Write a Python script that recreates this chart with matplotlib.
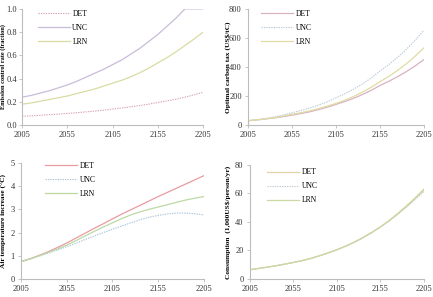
import matplotlib
matplotlib.use('Agg')
import matplotlib.pyplot as plt

plt.rcParams['font.family'] = ['Liberation Serif', 'DejaVu Serif']

years = list(range(2005, 2206, 10))
xticks = [2005, 2055, 2105, 2155, 2205]

# emission control rate
mu_det = [0.075, 0.079, 0.084, 0.089, 0.094, 0.100, 0.106, 0.113, 0.120, 0.128, 0.138,
          0.147, 0.157, 0.168, 0.180, 0.195, 0.208, 0.223, 0.240, 0.260, 0.282]
mu_unc = [0.24, 0.255, 0.275, 0.295, 0.32, 0.345, 0.375, 0.41, 0.445, 0.48, 0.52,
          0.56, 0.61, 0.66, 0.72, 0.78, 0.85, 0.92, 1.0, 1.0, 1.0]
mu_lrn = [0.18, 0.19, 0.205, 0.22, 0.235, 0.25, 0.27, 0.29, 0.31, 0.335, 0.36,
          0.385, 0.415, 0.45, 0.49, 0.535, 0.58, 0.63, 0.685, 0.74, 0.80]

# optimal carbon tax
tax_det = [30, 35, 42, 49, 58, 68, 79, 91, 106, 123, 142,
           162, 184, 210, 239, 272, 301, 333, 368, 407, 451]
tax_unc = [30, 37, 45, 56, 69, 85, 100, 117, 137, 160, 188,
           215, 247, 283, 324, 372, 416, 466, 521, 583, 653]
tax_lrn = [30, 36, 43, 51, 62, 74, 85, 98, 113, 130, 149,
           171, 197, 226, 260, 298, 335, 376, 422, 474, 532]

# air temperature increase
tat_det = [0.75, 0.87, 1.02, 1.18, 1.36, 1.55, 1.76, 1.97, 2.18, 2.38, 2.59,
           2.79, 2.98, 3.17, 3.36, 3.55, 3.73, 3.91, 4.09, 4.27, 4.45]
tat_unc = [0.75, 0.86, 0.99, 1.12, 1.25, 1.39, 1.54, 1.70, 1.85, 2.00, 2.14,
           2.28, 2.42, 2.55, 2.66, 2.74, 2.80, 2.84, 2.84, 2.81, 2.76]
tat_lrn = [0.75, 0.87, 1.00, 1.15, 1.30, 1.46, 1.65, 1.85, 2.05, 2.24, 2.42,
           2.60, 2.76, 2.89, 3.00, 3.10, 3.20, 3.30, 3.40, 3.48, 3.55]

# consumption
con_det = [6.5, 7.4, 8.3, 9.3, 10.4, 11.6, 12.9, 14.4, 16.3, 18.3, 20.5,
           23.0, 25.8, 29.0, 32.6, 36.6, 41.0, 46.0, 51.3, 57.0, 63.0]
con_unc = [6.5, 7.4, 8.3, 9.3, 10.4, 11.6, 12.9, 14.4, 16.3, 18.3, 20.5,
           23.0, 25.8, 29.0, 32.6, 36.4, 40.6, 45.3, 50.4, 55.8, 61.4]
con_lrn = [6.5, 7.4, 8.3, 9.3, 10.4, 11.6, 12.9, 14.4, 16.3, 18.3, 20.5,
           23.0, 25.8, 29.0, 32.6, 36.5, 40.8, 45.7, 50.9, 56.5, 62.3]

fig = plt.figure(figsize=(4.33, 2.97), dpi=100)
fig.set_facecolor('white')


def style(ax, ymax, ystep, ylabel, fs, lx, leg_xy, tpad=2):
    ax.set_xlim(2005, 2205)
    ax.set_ylim(0, ymax)
    ax.set_xticks(xticks)
    ax.set_yticks([i * ystep for i in range(int(round(ymax / ystep)) + 1)])
    for s in ['top', 'right']:
        ax.spines[s].set_visible(False)
    for s in ['left', 'bottom']:
        ax.spines[s].set_color('#bcbcbc')
        ax.spines[s].set_linewidth(0.8)
    ax.tick_params(colors='#bcbcbc', labelcolor='#333333', labelsize=6,
                   length=2.5, width=0.6, direction='out', pad=2)
    ax.tick_params(axis='y', pad=tpad)
    ax.set_ylabel(ylabel, fontsize=fs, fontweight='bold')
    ax.yaxis.set_label_coords(lx, 0.5)
    ax.legend(loc='upper left', bbox_to_anchor=leg_xy, frameon=False,
              fontsize=5.5, handlelength=4.2, labelspacing=0.78, handletextpad=0.3)


ax1 = fig.add_axes([0.051, 0.579, 0.418, 0.391])
ax1.plot(years, mu_det, color='#d8a4b6', lw=0.8, ls=(0, (1.2, 1)), label='DET')
ax1.plot(years, mu_unc, color='#c9bcd9', lw=0.9, label='UNC')
ax1.plot(years, mu_lrn, color='#d9dca2', lw=0.9, label='LRN')
style(ax1, 1.0, 0.2, 'Emission control rate (fraction)', 4.5, -0.09, (0.05, 1.05), tpad=1.2)
ax1.yaxis.set_major_formatter(plt.FormatStrFormatter('%.1f'))

ax2 = fig.add_axes([0.573, 0.579, 0.406, 0.391])
ax2.plot(years, tax_det, color='#d9b2c2', lw=0.9, label='DET')
ax2.plot(years, tax_unc, color='#b9c8d8', lw=0.8, ls=(0, (1.2, 1)), label='UNC')
ax2.plot(years, tax_lrn, color='#e0dca4', lw=0.9, label='LRN')
style(ax2, 800, 200, 'Optimal carbon tax (US$/tC)', 5.3, -0.1, (0.035, 1.05))

ax3 = fig.add_axes([0.0485, 0.0606, 0.4226, 0.391])
ax3.plot(years, tat_det, color='#ea9aa2', lw=0.9, label='DET')
ax3.plot(years, tat_unc, color='#a9c2da', lw=0.8, ls=(0, (1.2, 1)), label='UNC')
ax3.plot(years, tat_lrn, color='#bcd9a4', lw=0.9, label='LRN')
style(ax3, 5, 1, 'Air temperature increase (\u00b0C)', 5.3, -0.075, (0.095, 1.07))

ax4 = fig.add_axes([0.577, 0.0606, 0.402, 0.384])
ax4.plot(years, con_det, color='#e2d2a4', lw=0.9, label='DET')
ax4.plot(years, con_unc, color='#c2c9d2', lw=0.8, ls=(0, (1.2, 1)), label='UNC')
ax4.plot(years, con_lrn, color='#cad9a4', lw=0.9, label='LRN')
style(ax4, 80, 20, 'Consumption  (1,000US$/person/yr)', 5.3, -0.11, (0.06, 1.03))

plt.savefig('out.png', dpi=100)
plt.close()
